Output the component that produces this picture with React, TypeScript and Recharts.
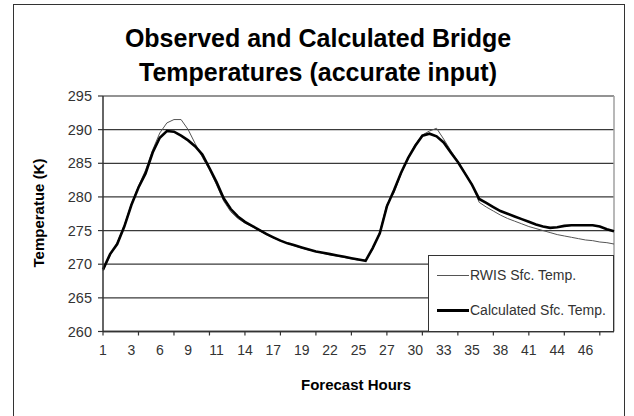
import React from 'react';
import { LineChart, Line, XAxis, YAxis, CartesianGrid, ReferenceLine } from 'recharts';

const xTickLabels = ['1', '3', '6', '9', '11', '14', '17', '19', '22', '25', '27', '30', '33', '35', '38', '41', '44', '46'];
const yTicks = [260, 265, 270, 275, 280, 285, 290, 295];
const seriesNames = ['RWIS Sfc. Temp.', 'Calculated Sfc. Temp.'];

const rwisTemp = [
  269.0, 271.3, 273.2, 275.8, 279.0, 281.6, 284.0, 287.0, 289.5, 291.0,
  291.5, 291.5, 290.0, 287.9, 285.9, 284.0, 281.8, 279.4, 277.8, 276.8,
  276.1, 275.6, 275.0, 274.4, 273.9, 273.5, 273.1, 272.7, 272.4, 272.1,
  271.9, 271.6, 271.4, 271.2, 271.0, 270.8, 270.6, 270.6, 272.2, 274.8,
  278.9, 280.6, 283.4, 285.9, 287.8, 289.2, 289.8, 290.2, 288.6, 286.9,
  285.3, 283.6, 281.9, 279.2, 278.5, 277.9, 277.3, 276.8, 276.4, 276.0,
  275.6, 275.3, 275.0, 274.7, 274.4, 274.2, 274.0, 273.8, 273.6, 273.5,
  273.3, 273.2, 273.0,
];

const calcTemp = [
  269.2, 271.5, 273.0, 275.6, 278.8, 281.4, 283.5, 286.6, 288.8, 289.8,
  289.7, 289.1, 288.4, 287.5, 286.3, 284.3, 282.2, 279.8, 278.2, 277.1,
  276.3, 275.7, 275.1, 274.5, 274.0, 273.5, 273.1, 272.8, 272.5, 272.2,
  271.9, 271.7, 271.5, 271.3, 271.1, 270.9, 270.7, 270.5, 272.4, 274.6,
  278.6, 281.0, 283.6, 285.8, 287.6, 289.1, 289.4, 289.0, 288.1, 286.6,
  285.2, 283.5, 281.8, 279.7, 279.1, 278.5, 277.9, 277.5, 277.1, 276.7,
  276.3, 275.9, 275.6, 275.4, 275.5, 275.7, 275.8, 275.8, 275.8, 275.8,
  275.6, 275.2, 274.9,
];

const data = calcTemp.map((c, i) => ({ idx: i, rwis: rwisTemp[i], calc: c }));

const FONT = '"Liberation Sans", Arial, sans-serif';

const XTick = (props: any) => {
  const { x, y, payload } = props;
  const i = payload.value as number;
  return (
    <g>
      {i % 5 === 0 && <line x1={x} y1={y} x2={x} y2={y + 4} stroke="#333" strokeWidth={1.2} />}
      {i % 4 === 0 && xTickLabels[i / 4] !== undefined && (
        <text x={x} y={y + 23} textAnchor="middle" fontFamily={FONT} fontSize={14} fill="#333">
          {xTickLabels[i / 4]}
        </text>
      )}
    </g>
  );
};

const LegendBox = () => (
  <div
    style={{
      position: 'absolute',
      left: 428,
      top: 255,
      width: 184,
      height: 75,
      border: '1.5px solid #333',
      background: '#fff',
      fontFamily: FONT,
      fontSize: 14,
      color: '#333',
    }}
  >
    <div style={{ position: 'absolute', left: 8, top: 11, display: 'flex', alignItems: 'center' }}>
      <div style={{ width: 32, height: 1, background: '#555' }} />
      <span style={{ marginLeft: 1 }}>{seriesNames[0]}</span>
    </div>
    <div style={{ position: 'absolute', left: 8, top: 46, display: 'flex', alignItems: 'center' }}>
      <div style={{ width: 32, height: 3, background: '#000' }} />
      <span style={{ marginLeft: 1 }}>{seriesNames[1]}</span>
    </div>
  </div>
);

export default function App() {
  return (
    <div style={{ position: 'fixed', left: 0, top: 0, width: 634, height: 416, overflow: 'hidden', background: '#fff' }}>
      <div
        style={{
          position: 'absolute',
          left: 13,
          top: 4,
          width: 610,
          height: 440,
          border: '1.5px solid #333',
        }}
      />
      <svg style={{ position: 'absolute', left: 0, top: 0 }} width={634} height={100}>
        <text x={318} y={47} textAnchor="middle" fontFamily={FONT} fontWeight="bold" fontSize={25} fill="#000">
          Observed and Calculated Bridge
        </text>
        <text x={318} y={81} textAnchor="middle" fontFamily={FONT} fontWeight="bold" fontSize={25} fill="#000">
          Temperatures (accurate input)
        </text>
      </svg>
      <div style={{ position: 'absolute', left: 0, top: 0 }}>
        <LineChart
          width={634}
          height={416}
          data={data}
          margin={{ top: 96, right: 20, bottom: 54.5, left: 43 }}
        >
          <CartesianGrid horizontal vertical={false} stroke="#3a3a3a" strokeWidth={1.3} />
          <ReferenceLine y={295} stroke="#a0a0a0" strokeWidth={1.5} />
          <ReferenceLine x={72} stroke="#a0a0a0" strokeWidth={1.5} />
          <XAxis
            dataKey="idx"
            type="category"
            interval={0}
            tickLine={false}
            tickSize={0}
            tickMargin={0}
            height={30}
            axisLine={{ stroke: '#333', strokeWidth: 1.5 }}
            tick={<XTick />}
            label={{
              content: () => (
                <text x={356} y={390} textAnchor="middle" fontFamily={FONT} fontWeight="bold" fontSize={15} fill="#000">
                  Forecast Hours
                </text>
              ),
            }}
          />
          <YAxis
            domain={[260, 295]}
            ticks={yTicks}
            width={60}
            tickSize={5}
            tickMargin={6}
            tickLine={{ stroke: '#333', strokeWidth: 1.2 }}
            axisLine={{ stroke: '#333', strokeWidth: 1.5 }}
            tick={{ fontFamily: FONT, fontSize: 14.5, fill: '#333' }}
            label={{
              content: () => (
                <text
                  x={40}
                  y={213}
                  transform="rotate(-90, 40, 213)"
                  textAnchor="middle"
                  dominantBaseline="middle"
                  fontFamily={FONT}
                  fontWeight="bold"
                  fontSize={15}
                  fill="#000"
                >
                  Temperatue (K)
                </text>
              ),
            }}
          />
          <Line
            type="linear"
            dataKey="rwis"
            name={seriesNames[0]}
            stroke="#555"
            strokeWidth={1}
            dot={false}
            isAnimationActive={false}
          />
          <Line
            type="linear"
            dataKey="calc"
            name={seriesNames[1]}
            stroke="#000"
            strokeWidth={2.6}
            dot={false}
            isAnimationActive={false}
          />
        </LineChart>
      </div>
      <LegendBox />
    </div>
  );
}
